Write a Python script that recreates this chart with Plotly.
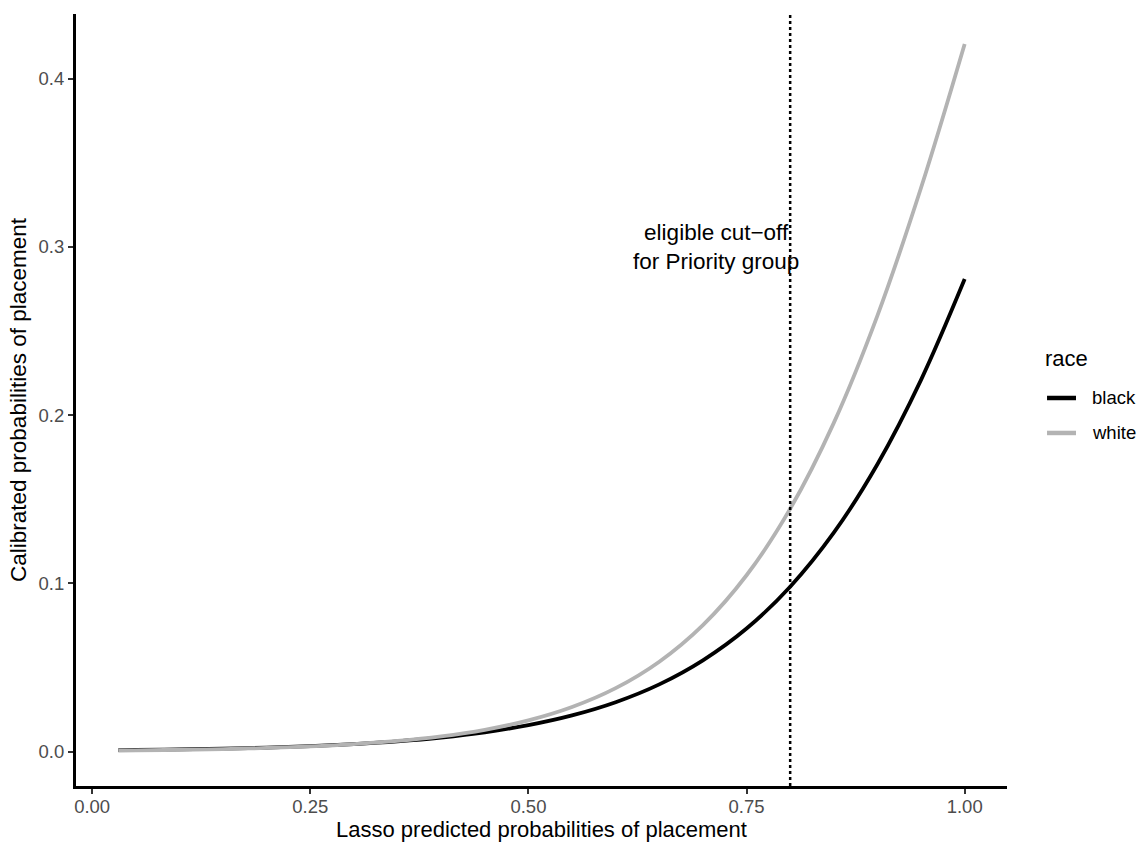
import plotly.graph_objects as go

x_vals = [0.03, 0.05, 0.10, 0.15, 0.20, 0.25, 0.30, 0.35, 0.40, 0.45, 0.50,
          0.55, 0.60, 0.65, 0.70, 0.75, 0.80, 0.85, 0.90, 0.95, 1.00]
black_vals = [0.00079, 0.00089, 0.00123, 0.00169, 0.00233, 0.00320, 0.00441, 0.00606,
              0.00833, 0.01144, 0.01568, 0.02146, 0.0293, 0.0399, 0.0542, 0.0731,
              0.0980, 0.1301, 0.1708, 0.2210, 0.2809]
white_vals = [0.00061, 0.00071, 0.00102, 0.00147, 0.00211, 0.00304, 0.00437, 0.00627,
              0.00902, 0.01294, 0.01852, 0.02647, 0.03768, 0.05341, 0.07516, 0.1048,
              0.1443, 0.1954, 0.2592, 0.3352, 0.4207]
series_names = ["black", "white"]
series_colors = ["black", "#b3b3b3"]
cutoff = 0.8
x_ticks = [0.0, 0.25, 0.5, 0.75, 1.0]
x_tick_labels = ["0.00", "0.25", "0.50", "0.75", "1.00"]
y_ticks = [0.0, 0.1, 0.2, 0.3, 0.4]
y_tick_labels = ["0.0", "0.1", "0.2", "0.3", "0.4"]

FONT = "Liberation Sans, Arial, sans-serif"

fig = go.Figure()
for name, vals, col in zip(series_names, [black_vals, white_vals], series_colors):
    fig.add_trace(go.Scatter(x=x_vals, y=vals, mode="lines", name=name, showlegend=False,
                             line=dict(color=col, width=3.8, shape="spline")))

fig.add_vline(x=cutoff, line=dict(color="black", width=2.5, dash="3px,3px"))
fig.add_annotation(x=0.715, y=0.30, text="eligible cut\u2212off<br>for Priority group",
                   showarrow=False, font=dict(family=FONT, size=22.5, color="black"),
                   align="center")

# legend (drawn in paper coordinates)
fig.add_annotation(xref="paper", yref="paper", x=1.0387, y=0.5544, xanchor="left",
                   yanchor="middle", text="race", showarrow=False,
                   font=dict(family=FONT, size=22, color="black"))
legend_y = [0.5026, 0.4573]
for name, col, ly in zip(series_names, series_colors, legend_y):
    fig.add_shape(type="line", xref="paper", yref="paper", x0=1.0430, x1=1.0741,
                  y0=ly, y1=ly, line=dict(color=col, width=4.5))
    fig.add_annotation(xref="paper", yref="paper", x=1.0892, y=ly, xanchor="left",
                       yanchor="middle", text=name, showarrow=False,
                       font=dict(family=FONT, size=18.5, color="black"))

axis_common = dict(showgrid=False, zeroline=False, showline=True, linecolor="black",
                   linewidth=3, ticks="outside", ticklen=5, tickwidth=2,
                   tickcolor="#333333", automargin=False,
                   tickfont=dict(family=FONT, size=18.5, color="#4d4d4d"))

fig.update_layout(
    width=1144, height=842,
    margin=dict(l=76, r=137, t=14, b=56),
    paper_bgcolor="white", plot_bgcolor="white",
    font=dict(family=FONT),
    showlegend=False,
    xaxis=dict(range=[-0.0185, 1.0485], tickvals=x_ticks, ticktext=x_tick_labels,
               ticklabelstandoff=-3,
               title=dict(text="Lasso predicted probabilities of placement",
                          font=dict(size=22, color="black"), standoff=7),
               **axis_common),
    yaxis=dict(range=[-0.0205, 0.4385], tickvals=y_ticks, ticktext=y_tick_labels,
               title=dict(text="Calibrated probabilities of placement",
                          font=dict(size=22.5, color="black"), standoff=6),
               **axis_common),
)

fig.write_html("out.html")
